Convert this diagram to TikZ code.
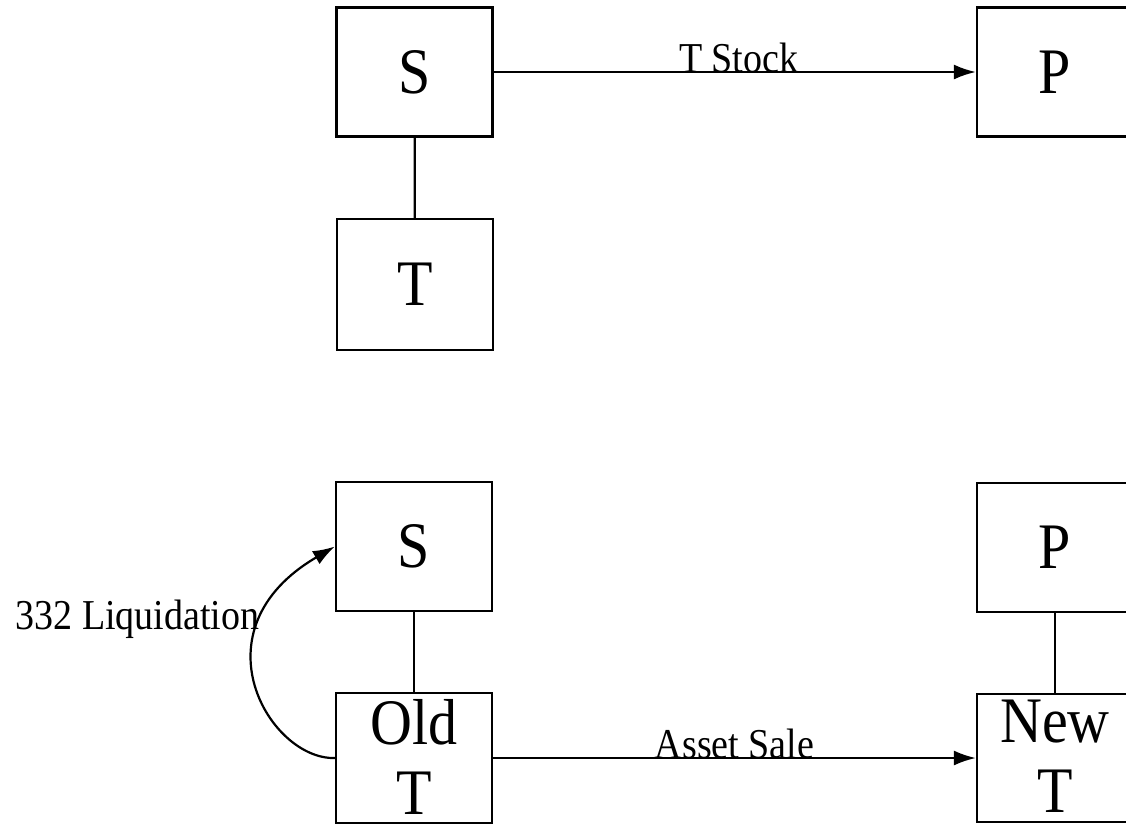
\documentclass[tikz,border=0pt]{standalone}
\usepackage{fontspec}
\usepackage{graphicx}
\setmainfont{Liberation Serif}
\usetikzlibrary{arrows.meta}
\newcommand\tallt[1]{\scalebox{1}[1.12]{#1}}
\begin{document}
\begin{tikzpicture}[x=1pt,y=-1pt,
  boxnode/.style={draw,line width=2.3pt,inner sep=0pt,minimum width=156pt,minimum height=129pt,
    font=\fontsize{58}{76}\selectfont,align=center},
  link/.style={line width=2.2pt},
  flow/.style={line width=2.2pt,-{Latex[length=22pt,width=15pt]}},
  lbl/.style={font=\fontsize{38}{40}\selectfont,inner sep=0pt}]
\useasboundingbox (0,0) rectangle (1126,825);
\clip (0,0) rectangle (1126,825);
\fill[white] (0,0) rectangle (1126,825);
\node[boxnode] (S1) at (414.5,72) {\tallt{S}};
\node[boxnode] (P1) at (1055,72) {\tallt{P}};
\node[boxnode,minimum height=131pt] (T1) at (415,284.5) {\tallt{T}};
\node[boxnode] (S2) at (414,546.5) {\tallt{S}};
\node[boxnode] (P2) at (1055,547.5) {\tallt{P}};
\node[boxnode,minimum height=130pt] (O) at (414,758) {\raisebox{3pt}{\tallt{Old}}\\[-6pt]\raisebox{3pt}{\tallt{T}}};
\node[boxnode,minimum height=128pt] (N) at (1055,758) {\raisebox{3pt}{\tallt{New}}\\[-6pt]\raisebox{3pt}{\tallt{T}}};
\draw[link] (S1) -- (T1);
\draw[link] (S2) -- (O);
\draw[link] (P2) -- (N);
\draw[flow] (S1.east) -- node[lbl,anchor=base,xshift=4pt] {\tallt{T Stock}} (P1.west);
\draw[flow] (O.east) -- node[lbl,anchor=base] {\tallt{Asset Sale}} (N.west);
\draw[flow] (O.west) .. controls (270,760) and (192,630) .. node[lbl,pos=0.7,anchor=base east,xshift=1pt] {\tallt{332 Liquidation}} (S2.west);
\end{tikzpicture}
\end{document}
